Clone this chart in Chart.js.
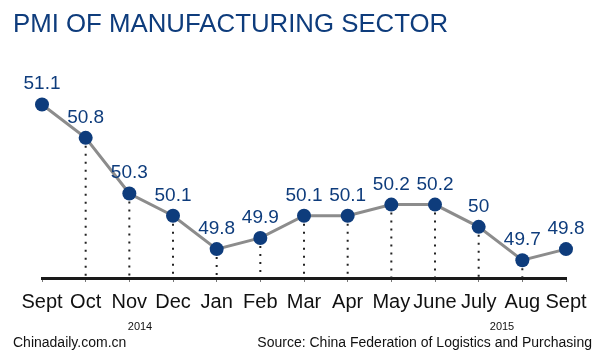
<!DOCTYPE html>
<html>
<head>
<meta charset="utf-8">
<script src="https://cdn.jsdelivr.net/npm/chart.js@4"></script>
<style>
  body { margin: 0; background: #fff; }
  #wrap { position: relative; width: 600px; height: 354px; font-family: "Liberation Sans", Arial, sans-serif; }
  #wrap div { position: absolute; line-height: 1; white-space: nowrap; }
  .title { left: 13px; top: 11px; font-size: 25.8px; color: #0e3c7c; }
  .year { font-size: 11px; color: #111; transform: translateX(-50%); top: 321px; }
  .foot { font-size: 14px; color: #111; top: 335px; }
</style>
</head>
<body>
<div id="wrap">
  <canvas id="pmiChart" width="600" height="354"></canvas>
  <div class="title">PMI OF MANUFACTURING SECTOR</div>
  <div class="year" style="left:140px">2014</div>
  <div class="year" style="left:502px">2015</div>
  <div class="foot" style="left:13px">Chinadaily.com.cn</div>
  <div class="foot" style="right:8px">Source: China Federation of Logistics and Purchasing</div>
</div>
<script>
const meses = ['Sept', 'Oct', 'Nov', 'Dec', 'Jan', 'Feb', 'Mar', 'Apr', 'May', 'June', 'July', 'Aug', 'Sept'];
const pmi = [51.1, 50.8, 50.3, 50.1, 49.8, 49.9, 50.1, 50.1, 50.2, 50.2, 50, 49.7, 49.8];

const azul = '#0e3c7c';

// linhas pontilhadas do ponto até o eixo (menos o primeiro e o último)
const pontilhado = {
  id: 'pontilhado',
  beforeDatasetsDraw(chart) {
    const { ctx, chartArea } = chart;
    const pts = chart.getDatasetMeta(0).data;
    ctx.save();
    ctx.strokeStyle = '#222';
    ctx.lineWidth = 2;
    ctx.setLineDash([2, 6]);
    for (let i = 1; i < pts.length - 1; i++) {
      ctx.beginPath();
      ctx.moveTo(pts[i].x, pts[i].y);
      ctx.lineTo(pts[i].x, chartArea.bottom);
      ctx.stroke();
    }
    ctx.restore();
  }
};

// valores em cima de cada ponto
const rotulos = {
  id: 'rotulos',
  afterDatasetsDraw(chart) {
    const { ctx } = chart;
    const pts = chart.getDatasetMeta(0).data;
    ctx.save();
    ctx.fillStyle = azul;
    ctx.font = '19px "Liberation Sans", Arial, sans-serif';
    ctx.textAlign = 'center';
    ctx.textBaseline = 'alphabetic';
    pts.forEach((p, i) => {
      ctx.fillText(String(pmi[i]), p.x, p.y - 15);
    });
    ctx.restore();
  }
};

new Chart(document.getElementById('pmiChart'), {
  type: 'line',
  data: {
    labels: meses,
    datasets: [{
      data: pmi,
      borderColor: '#8c8c8c',
      borderWidth: 3,
      pointBackgroundColor: azul,
      pointBorderColor: azul,
      pointBorderWidth: 0,
      pointRadius: 7,
      tension: 0,
      fill: false,
    }]
  },
  options: {
    responsive: false,
    animation: false,
    layout: { padding: { top: 60, left: 42, right: 34, bottom: 32 } },
    scales: {
      y: { display: false, min: 49.54, max: 51.5 },
      x: {
        offset: false,
        grid: { drawOnChartArea: false, drawTicks: true, tickLength: 4, color: '#777', lineWidth: 1 },
        border: { display: true, color: '#1a1a1a', width: 3 },
        ticks: {
          color: '#111',
          padding: 8,
          maxRotation: 0,
          autoSkip: false,
          font: { family: '"Liberation Sans", Arial, sans-serif', size: 20 }
        }
      }
    },
    plugins: {
      legend: { display: false },
      tooltip: { enabled: false },
      title: { display: false }
    }
  },
  plugins: [pontilhado, rotulos]
});
</script>
</body>
</html>
